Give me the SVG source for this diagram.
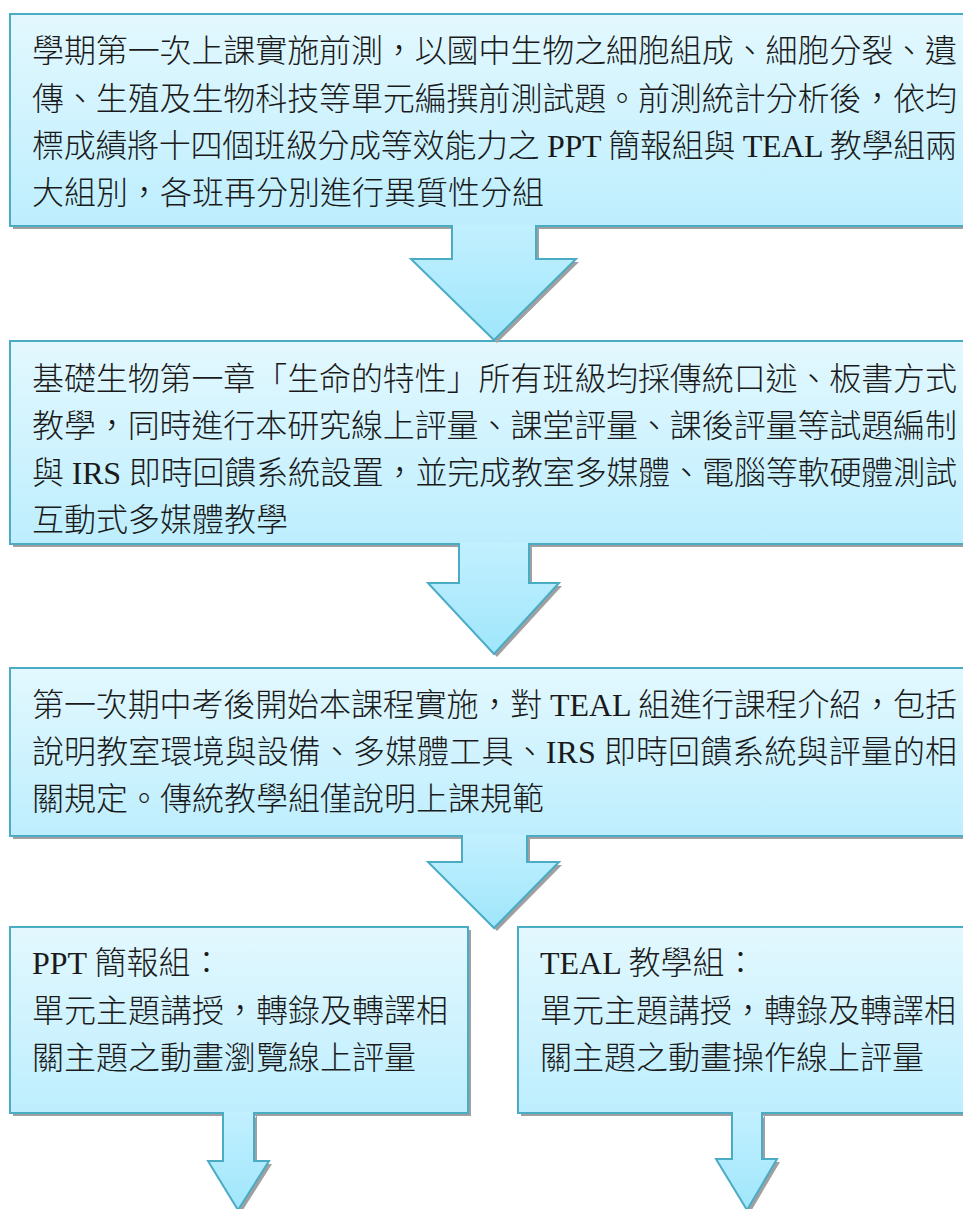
<svg xmlns="http://www.w3.org/2000/svg" width="963" height="1209" viewBox="0 0 963 1209">
<defs>
<linearGradient id="boxg" x1="0" y1="0" x2="0" y2="1">
<stop offset="0" stop-color="#e3f8fe"/>
<stop offset="1" stop-color="#bdeefe"/>
</linearGradient>
<linearGradient id="arrg" x1="0" y1="0" x2="0" y2="1">
<stop offset="0" stop-color="#c2f0ff"/>
<stop offset="1" stop-color="#9fe6fb"/>
</linearGradient>
<style>
.box{fill:url(#boxg);stroke:#4aabc5;stroke-width:2}
.shadow{fill:#a0a0a0}
.arr{fill:url(#arrg);stroke:#4aabc5;stroke-width:2;stroke-linejoin:miter}
.ashadow{fill:#a0a0a0}
.t{font-family:"Liberation Serif","Noto Sans CJK TC",serif;font-size:32px;font-weight:300;fill:#1a1a1a}
</style>
</defs>
<rect width="963" height="1209" fill="#ffffff"/>

<g id="node1">
<rect class="shadow" x="13" y="17" width="960" height="212"/>
<rect class="box" x="10" y="14" width="960" height="212"/>
<text class="t" x="32" y="62" textLength="925" lengthAdjust="spacing">學期第一次上課實施前測，以國中生物之細胞組成、細胞分裂、遺</text>
<text class="t" x="32" y="110" textLength="925" lengthAdjust="spacing">傳、生殖及生物科技等單元編撰前測試題。前測統計分析後，依均</text>
<text class="t" x="32" y="157" textLength="925" lengthAdjust="spacing">標成績將十四個班級分成等效能力之 PPT 簡報組與 TEAL 教學組兩</text>
<text class="t" x="32" y="204">大組別，各班再分別進行異質性分組</text>
</g>

<g id="node2">
<rect class="shadow" x="13" y="344" width="960" height="203"/>
<rect class="box" x="10" y="341" width="960" height="203"/>
<text class="t" x="32" y="390" textLength="925" lengthAdjust="spacing">基礎生物第一章「生命的特性」所有班級均採傳統口述、板書方式</text>
<text class="t" x="32" y="437" textLength="925" lengthAdjust="spacing">教學，同時進行本研究線上評量、課堂評量、課後評量等試題編制</text>
<text class="t" x="32" y="484" textLength="925" lengthAdjust="spacing">與 IRS 即時回饋系統設置，並完成教室多媒體、電腦等軟硬體測試</text>
<text class="t" x="32" y="531">互動式多媒體教學</text>
</g>

<g id="node3">
<rect class="shadow" x="13" y="671" width="960" height="168"/>
<rect class="box" x="10" y="668" width="960" height="168"/>
<text class="t" x="32" y="716" textLength="925" lengthAdjust="spacing">第一次期中考後開始本課程實施，對 TEAL 組進行課程介紹，包括</text>
<text class="t" x="32" y="763" textLength="925" lengthAdjust="spacing">說明教室環境與設備、多媒體工具、IRS 即時回饋系統與評量的相</text>
<text class="t" x="32" y="810">關規定。傳統教學組僅說明上課規範</text>
</g>

<g id="node4">
<rect class="shadow" x="13" y="930" width="458" height="186"/>
<rect class="box" x="10" y="927" width="458" height="186"/>
<text class="t" x="32" y="974">PPT 簡報組：</text>
<text class="t" x="32" y="1022">單元主題講授，轉錄及轉譯相</text>
<text class="t" x="32" y="1069">關主題之動畫瀏覽線上評量</text>
</g>

<g id="node5">
<rect class="shadow" x="521" y="930" width="452" height="186"/>
<rect class="box" x="518" y="927" width="452" height="186"/>
<text class="t" x="540" y="974">TEAL 教學組：</text>
<text class="t" x="540" y="1022">單元主題講授，轉錄及轉譯相</text>
<text class="t" x="540" y="1069">關主題之動畫操作線上評量</text>
</g>

<g id="connectors">
<path class="ashadow" d="M539,228 L539,262 L579,262 L497,343 L414,262 L455,262 L455,228 Z"/>
<path class="arr" d="M452,225 L452,259 L411,259 L494,340 L576,259 L536,259 L536,225"/>

<path class="ashadow" d="M532,546 L532,586 L562,586 L497,657 L431,586 L462,586 L462,546 Z"/>
<path class="arr" d="M459,543 L459,583 L428,583 L494,654 L559,583 L529,583 L529,543"/>

<path class="ashadow" d="M530,838 L530,865 L562,865 L497,931 L431,865 L465,865 L465,838 Z"/>
<path class="arr" d="M462,835 L462,862 L428,862 L494,928 L559,862 L527,862 L527,835"/>

<path class="ashadow" d="M257,1115 L257,1164 L272,1164 L241,1213 L211,1164 L226,1164 Z"/>
<path class="arr" d="M223,1112 L223,1161 L208,1161 L238,1210 L269,1161 L254,1161 L254,1112"/>

<path class="ashadow" d="M765,1115 L765,1162 L780,1162 L750,1213 L719,1162 L735,1162 Z"/>
<path class="arr" d="M732,1112 L732,1159 L716,1159 L747,1210 L777,1159 L762,1159 L762,1112"/>
</g>
</svg>
